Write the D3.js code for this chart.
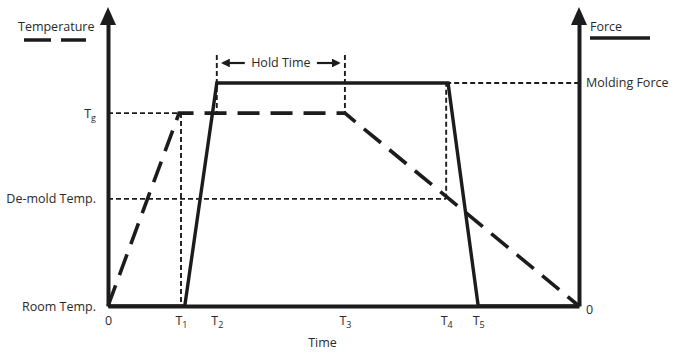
<!DOCTYPE html>
<html>
<head>
<meta charset="utf-8">
<script src="https://cdn.jsdelivr.net/npm/d3@7"></script>
<style>
  body { margin: 0; background: #fff; }
  svg text { font-family: "Open Sans", sans-serif; font-size: 12.5px; fill: #2a2a2a; }
</style>
</head>
<body>
<svg id="chart" width="676" height="353"></svg>
<script>
// time axis ticks (arbitrary units, 0..100)
const tickNames = ["0", "T", "T", "T", "T", "T"];
const tickSubs = ["", "1", "2", "3", "4", "5"];
const tickTimes = [0, 15.5, 23.1, 50.3, 71.8, 78.6];
const timeEnd = 100;

// levels on the two vertical axes (0..100)
const tempNames = ["Room Temp.", "De-mold Temp.", "T"];
const tempSubs = ["", "", "g"];
const tempLevels = [0, 38.0, 68.4];
const forceNames = ["0", "Molding Force"];
const forceLevels = [0, 79.1];

// temperature curve (dashed)
const tempTimes = [0, 15.1, 50.3, 100];
const tempValues = [0, 68.4, 68.4, 0];

// force curve (solid)
const forceTimes = [0, 16.3, 23.1, 72.2, 78.6, 100];
const forceValues = [0, 0, 79.1, 79.1, 0, 0];

const ink = "#1c1c1c";
const svg = d3.select("#chart");

const x = d3.scaleLinear().domain([0, timeEnd]).range([108, 579]);
const y = d3.scaleLinear().domain([0, 100]).range([306, 24]);

const line = d3.line().x(d => x(d[0])).y(d => y(d[1]));

// dotted helper lines
const guides = [
  [[0, tempLevels[2]], [tickTimes[1], tempLevels[2]]],
  [[tickTimes[1], tempLevels[2]], [tickTimes[1], 0]],
  [[0, tempLevels[1]], [tickTimes[4], tempLevels[1]]],
  [[tickTimes[4], tempLevels[1]], [tickTimes[4], forceLevels[1]]],
  [[tickTimes[4], forceLevels[1]], [timeEnd, forceLevels[1]]]
];
svg.append("g").selectAll("path")
  .data(guides)
  .enter()
  .append("path")
  .attr("d", line)
  .attr("fill", "none")
  .attr("stroke", ink)
  .attr("stroke-width", 1.9)
  .attr("stroke-dasharray", "5,3");

// hold time bracket
const holdTop = 55;
[tickTimes[2], tickTimes[3]].forEach(t => {
  svg.append("line")
    .attr("x1", x(t)).attr("x2", x(t))
    .attr("y1", holdTop).attr("y2", y(tempLevels[2]))
    .attr("stroke", ink)
    .attr("stroke-width", 1.9)
    .attr("stroke-dasharray", "5,3");
});

svg.append("defs").append("marker")
  .attr("id", "head")
  .attr("viewBox", "0 0 10 10")
  .attr("refX", 8).attr("refY", 5)
  .attr("markerWidth", 4).attr("markerHeight", 4)
  .attr("orient", "auto")
  .append("path")
  .attr("d", "M0,0L10,5L0,10Z")
  .attr("fill", ink);

const holdY = 63;
svg.append("line")
  .attr("x1", x(tickTimes[2]) + 28).attr("x2", x(tickTimes[2]) + 6)
  .attr("y1", holdY).attr("y2", holdY)
  .attr("stroke", ink).attr("stroke-width", 2.2)
  .attr("marker-end", "url(#head)");
svg.append("line")
  .attr("x1", x(tickTimes[3]) - 28).attr("x2", x(tickTimes[3]) - 6)
  .attr("y1", holdY).attr("y2", holdY)
  .attr("stroke", ink).attr("stroke-width", 2.2)
  .attr("marker-end", "url(#head)");
svg.append("text")
  .attr("x", (x(tickTimes[2]) + x(tickTimes[3])) / 2)
  .attr("y", holdY + 4)
  .attr("text-anchor", "middle")
  .text("Hold Time");

// temperature curve
svg.append("path")
  .datum(d3.zip(tempTimes, tempValues))
  .attr("d", line)
  .attr("fill", "none")
  .attr("stroke", ink)
  .attr("stroke-width", 3.6)
  .attr("stroke-dasharray", "22,11");

// force curve
svg.append("path")
  .datum(d3.zip(forceTimes, forceValues))
  .attr("d", line)
  .attr("fill", "none")
  .attr("stroke", ink)
  .attr("stroke-width", 3.4)
  .attr("stroke-linejoin", "miter");

function addSub(sel, names, subs) {
  sel.selectAll(".tick text").each(function(d, i) {
    const t = d3.select(this).text("");
    t.append("tspan").text(names[i]);
    if (subs[i]) {
      t.append("tspan").attr("dy", "0.35em").style("font-size", "9px").text(subs[i]);
    }
  });
}

// time axis
const xAxis = svg.append("g")
  .attr("transform", `translate(0,${y(0)})`)
  .call(d3.axisBottom(x).tickValues(tickTimes).tickSize(0).tickPadding(10));
addSub(xAxis, tickNames, tickSubs);

svg.append("text")
  .attr("x", x(timeEnd / 2) - 21)
  .attr("y", 347)
  .attr("text-anchor", "middle")
  .text("Time");

// temperature axis
const yLeft = svg.append("g")
  .attr("transform", `translate(${x(0)},0)`)
  .call(d3.axisLeft(y).tickValues(tempLevels).tickSize(0).tickPadding(12));
addSub(yLeft, tempNames, tempSubs);

// force axis
const yRight = svg.append("g")
  .attr("transform", `translate(${x(timeEnd)},0)`)
  .call(d3.axisRight(y).tickValues(forceLevels).tickSize(0).tickPadding(7));
yRight.selectAll(".tick text").text((d, i) => forceNames[i]);
yRight.select(".tick text").attr("dy", "0.6em");

svg.selectAll(".domain")
  .attr("stroke", ink)
  .attr("stroke-width", 4);
svg.selectAll(".tick text")
  .style("font-family", "'Open Sans', sans-serif")
  .style("font-size", "12.5px")
  .attr("fill", "#2a2a2a");

// arrow heads on the vertical axes
[x(0), x(timeEnd)].forEach(px => {
  svg.append("path")
    .attr("d", `M${px},7L${px + 8},25L${px - 8},25Z`)
    .attr("fill", ink);
});

// legends
svg.append("text").attr("x", 18).attr("y", 31).text("Temperature");
svg.append("line")
  .attr("x1", 24).attr("x2", 86)
  .attr("y1", 40).attr("y2", 40)
  .attr("stroke", ink).attr("stroke-width", 3.4)
  .attr("stroke-dasharray", "27,10");

svg.append("text").attr("x", 590).attr("y", 31).text("Force");
svg.append("line")
  .attr("x1", 590).attr("x2", 650)
  .attr("y1", 38).attr("y2", 38)
  .attr("stroke", ink).attr("stroke-width", 3.4);
</script>
</body>
</html>
